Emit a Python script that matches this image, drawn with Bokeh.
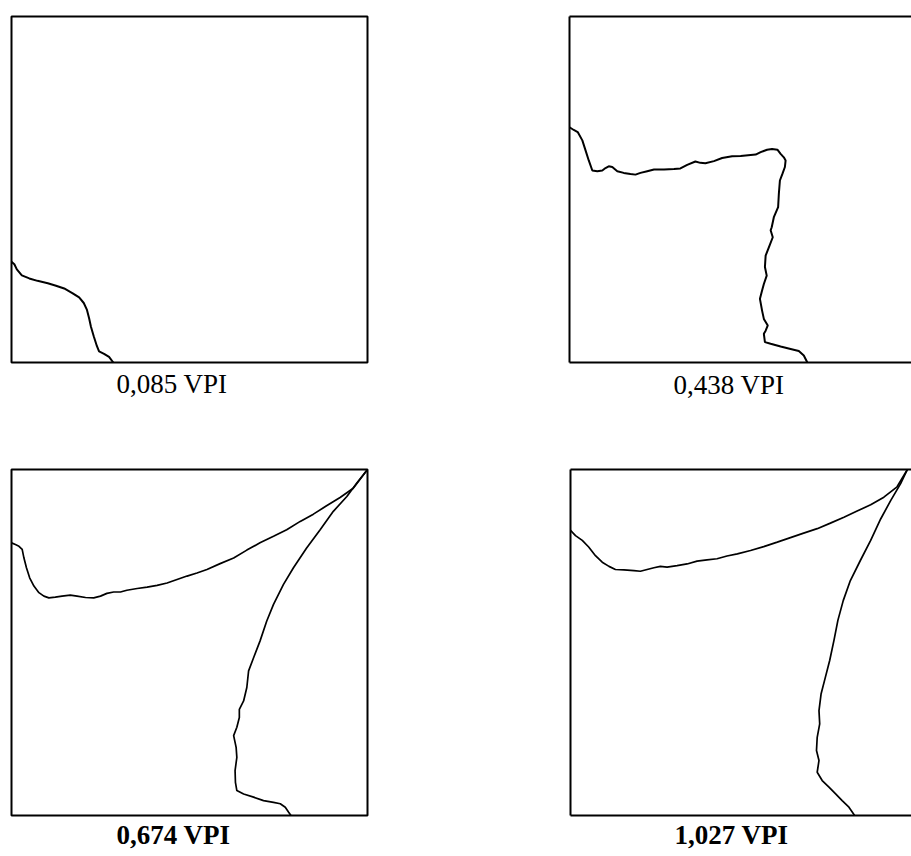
from bokeh.plotting import figure
from bokeh.layouts import column, row
from bokeh.models import LinearAxis, FixedTicker, Range1d, Title
from bokeh.embed import file_html
from bokeh.resources import INLINE

# Curve data: x = 0..100 across box width, y = 0..100 up box height
p1_x = [0, 0.8, 1.5, 2.9, 5.0, 7.3, 10.2, 12.5, 14.8, 17.2, 19.0, 20.3, 21.2, 21.8, 22.3, 23.1, 24.0, 24.6, 26.0, 27.4, 28.6]
p1_y = [29.1, 28.4, 26.9, 25.2, 24.3, 23.6, 22.9, 22.2, 21.4, 20.0, 18.8, 17.2, 15.2, 12.8, 10.4, 7.6, 4.7, 3.2, 2.5, 1.6, 0]

p2_x = [0, 1.2, 2.3, 3.6, 4.5, 5.4, 6.4, 7.8, 9.2, 10.1, 11.0, 12.0, 13.4, 15.2, 17.1, 18.5, 19.9, 21.8, 23.7, 26.5,
        29.3, 31.1, 33.0, 35.3, 36.7, 38.1, 40.5, 42.8, 45.6, 48.0, 50.8, 52.2, 53.6, 55.4, 56.8, 58.3, 59.2, 60.1, 60.6,
        60.4, 59.7, 59.0, 58.7, 58.5, 57.3, 56.7, 56.4, 57.0, 55.9, 55.0, 54.8, 55.3, 54.5, 54.0, 53.4, 54.0, 54.5, 55.6,
        55.0, 54.5, 54.8, 56.4, 59.2, 62.0, 64.3, 65.7, 66.7]
p2_y = [68.0, 67.2, 66.6, 64.2, 61.3, 58.4, 55.5, 55.3, 55.5, 56.2, 56.7, 56.5, 55.3, 54.8, 54.5, 54.3, 54.8, 55.3, 55.8, 55.8,
        55.9, 56.1, 57.1, 58.1, 57.7, 57.6, 58.2, 59.1, 59.6, 59.7, 60.0, 60.1, 60.8, 61.5, 61.7, 61.5, 60.3, 59.3, 58.4,
        56.5, 54.5, 52.6, 48.7, 44.9, 42.0, 39.1, 38.2, 36.2, 33.3, 30.9, 27.6, 25.1, 22.7, 20.8, 18.4, 15.0, 12.6, 10.7,
        9.2, 8.3, 5.9, 5.4, 4.6, 3.9, 3.3, 2.0, 0]

p3_upper_x = [0, 1.1, 2.1, 3.0, 3.5, 4.2, 5.1, 6.3, 7.7, 9.1, 10.5, 12.3, 14.2, 16.5, 18.4, 20.8, 23.1, 25.0, 26.8, 28.7,
              30.6, 32.4, 35.3, 38.1, 40.9, 43.7, 46.5, 49.3, 52.1, 54.9, 58.6, 62.4, 66.1, 69.8, 73.6, 77.3, 81.1, 84.8,
              88.5, 92.3, 96.0, 100]
p3_upper_y = [78.8, 78.3, 77.8, 76.9, 74.4, 71.6, 68.7, 66.3, 64.4, 63.4, 62.9, 63.1, 63.4, 63.7, 63.4, 63.0, 62.9, 63.4, 64.2, 64.6,
              64.6, 65.1, 65.6, 66.0, 66.5, 67.2, 68.2, 69.2, 70.1, 71.1, 72.8, 74.4, 76.7, 78.8, 80.7, 82.6, 85.0, 87.1,
              89.5, 91.9, 94.6, 100]
p3_lower_x = [100, 97.0, 94.2, 90.4, 86.7, 82.9, 79.2, 76.4, 73.6, 71.7, 69.8, 68.0, 66.6, 66.1, 65.2, 64.0, 64.0, 63.3, 62.4,
              63.1, 63.3, 62.8, 62.9, 63.3, 65.2, 68.0, 70.8, 73.6, 75.5, 76.9, 77.8, 78.5]
p3_lower_y = [100, 96.1, 92.2, 87.9, 82.6, 77.3, 71.6, 66.8, 61.0, 56.2, 50.4, 45.6, 41.8, 37.0, 33.1, 30.7, 28.3, 25.5, 23.1,
              19.7, 16.8, 13.0, 9.6, 7.2, 6.2, 5.3, 4.3, 3.8, 3.4, 2.4, 1.0, 0]

p4_upper_x = [0, 1.4, 3.3, 5.1, 7.0, 8.9, 10.8, 12.6, 15.0, 17.8, 19.6, 21.5, 23.4, 25.2, 27.1, 29.9, 32.7, 35.5, 38.3, 41.1,
              43.9, 46.8, 50.5, 54.2, 58.0, 61.7, 65.4, 69.2, 72.9, 76.7, 80.4, 84.2, 87.9, 91.6, 94.5]
p4_upper_y = [82.4, 80.9, 79.5, 77.6, 75.1, 73.2, 72.0, 71.1, 71.0, 70.8, 70.6, 71.1, 71.6, 72.0, 71.8, 72.2, 72.7, 73.5, 73.9, 74.2,
              75.0, 75.6, 76.6, 77.7, 79.0, 80.3, 81.6, 82.9, 84.5, 86.2, 88.0, 89.8, 92.0, 95.0, 100]
p4_lower_x = [94.5, 92.6, 89.8, 87.0, 84.2, 81.3, 78.5, 76.5, 75.0, 73.9, 72.7, 71.5, 70.3, 69.7, 69.9, 69.2, 69.0, 69.7, 69.2,
              70.6, 72.5, 74.3, 76.2, 78.1, 79.7]
p4_lower_y = [100, 95.9, 91.0, 85.7, 79.5, 73.7, 67.9, 62.1, 56.4, 50.6, 44.8, 40.0, 35.2, 30.3, 26.5, 22.6, 18.8, 15.9, 12.5,
              10.1, 8.2, 6.3, 4.3, 2.4, 0]

labels = ["0,085 VPI", "0,438 VPI", "0,674 VPI", "1,027 VPI"]


def blank_axis():
    return LinearAxis(ticker=FixedTicker(ticks=[]), major_tick_line_color=None, minor_tick_line_color=None,
                      major_label_text_font_size="0px", major_label_standoff=0,
                      major_tick_out=0, minor_tick_out=0, major_tick_in=0, minor_tick_in=0,
                      axis_line_width=2, axis_line_color="black")


def make_panel(width, height, bl, bt, br, bb, xmax, open_right, label, offset, bold, standoff):
    p = figure(width=width, height=height, x_range=Range1d(0, xmax), y_range=Range1d(0, 100),
               x_axis_location=None, y_axis_location=None, toolbar_location=None, output_backend="svg",
               min_border_left=bl, min_border_top=bt, min_border_right=br, min_border_bottom=bb,
               background_fill_color="white", border_fill_color="white")
    p.grid.grid_line_color = None
    if open_right:
        p.outline_line_color = None
        for side in ("left", "above", "below"):
            p.add_layout(blank_axis(), side)
    else:
        p.outline_line_color = "black"
        p.outline_line_width = 2
        p.outline_line_alpha = 1.0
    p.add_layout(Title(text=label, align="left", offset=offset, vertical_align="top", standoff=standoff,
                       text_font="Liberation Serif", text_font_size="27px",
                       text_font_style="bold" if bold else "normal", text_color="black"), "below")
    return p


p1 = make_panel(548, 455, 11, 15, 181, 92, 100, False, labels[0], 105, False, 12)
p1.line(p1_x, p1_y, line_color="black", line_width=2)

p2 = make_panel(363, 455, 21, 16, 0, 93, 95.9, True, labels[1], 104, False, 14)
p2.line(p2_x, p2_y, line_color="black", line_width=2)

p3 = make_panel(548, 401, 11, 13, 181, 41, 100, False, labels[2], 105, True, 8)
p3.multi_line([p3_upper_x, p3_lower_x], [p3_upper_y, p3_lower_y], line_color="black", line_width=1.7)

p4 = make_panel(363, 401, 22, 14, 0, 41, 95.65, True, labels[3], 104, True, 8)
p4.multi_line([p4_upper_x, p4_lower_x], [p4_upper_y, p4_lower_y], line_color="black", line_width=1.7)

layout = column(row(p1, p2), row(p3, p4))

open("out.html", "w").write(file_html(layout, INLINE))
